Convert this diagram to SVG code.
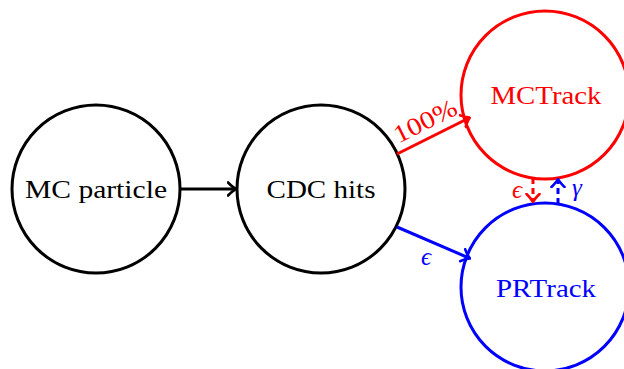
<svg xmlns="http://www.w3.org/2000/svg" width="624" height="369" viewBox="0 0 624 369">
<style>
text{font-family:"Liberation Serif","DejaVu Serif",serif;font-size:25px;text-anchor:middle;dominant-baseline:central}
.n{fill:none;stroke-width:3}
.e{fill:none;stroke-width:3}
</style>
<defs>
<marker id="ak" viewBox="-8 -8 10 16" markerWidth="10" markerHeight="16" refX="0" refY="0" orient="auto" markerUnits="userSpaceOnUse"><path d="M-7,-6.5 Q-2,-1.5 1,0 Q-2,1.5 -7,6.5" fill="none" stroke="#000" stroke-width="2.6" stroke-linecap="round"/></marker>
<marker id="ar" viewBox="-8 -8 10 16" markerWidth="10" markerHeight="16" refX="0" refY="0" orient="auto" markerUnits="userSpaceOnUse"><path d="M-7,-6.5 Q-2,-1.5 1,0 Q-2,1.5 -7,6.5" fill="none" stroke="#f00" stroke-width="2.6" stroke-linecap="round"/></marker>
<marker id="ab" viewBox="-8 -8 10 16" markerWidth="10" markerHeight="16" refX="0" refY="0" orient="auto" markerUnits="userSpaceOnUse"><path d="M-7,-6.5 Q-2,-1.5 1,0 Q-2,1.5 -7,6.5" fill="none" stroke="#00f" stroke-width="2.6" stroke-linecap="round"/></marker>
</defs>
<g id="mcparticle"><circle class="n" cx="96" cy="189" r="84" stroke="#000"/><text x="96" y="189" textLength="142" lengthAdjust="spacingAndGlyphs">MC particle</text></g>
<g id="cdchits"><circle class="n" cx="321" cy="189" r="84" stroke="#000"/><text x="321" y="189" textLength="109" lengthAdjust="spacingAndGlyphs">CDC hits</text></g>
<g id="mctrack"><circle class="n" cx="545" cy="95" r="84" stroke="#f00"/><text x="546" y="95" fill="#f00" textLength="111" lengthAdjust="spacingAndGlyphs">MCTrack</text></g>
<g id="prtrack"><circle class="n" cx="545" cy="287" r="84" stroke="#00f"/><text x="546" y="288" fill="#00f" textLength="100" lengthAdjust="spacingAndGlyphs">PRTrack</text></g>
<g id="connectors">
<line class="e" x1="180" y1="189" x2="235" y2="189" stroke="#000" marker-end="url(#ak)"/>
<line class="e" x1="397" y1="154" x2="469" y2="118" stroke="#f00" marker-end="url(#ar)"/>
<text x="425" y="121" fill="#f00" font-size="27" textLength="68" lengthAdjust="spacingAndGlyphs" transform="rotate(-26.6 425 121)">100%</text>
<line class="e" x1="397" y1="227" x2="469" y2="258" stroke="#00f" marker-end="url(#ab)"/>
<text x="426" y="256" fill="#00f" font-style="italic" font-size="22">ϵ</text>
<line class="e" x1="533" y1="178" x2="533" y2="201" stroke="#f00" stroke-dasharray="6,4" marker-end="url(#ar)"/>
<text x="517" y="189" fill="#f00" font-style="italic" font-size="22">ϵ</text>
<line class="e" x1="558" y1="204" x2="558" y2="180" stroke="#00f" stroke-dasharray="6,4" marker-end="url(#ab)"/>
<text x="577" y="187" fill="#00f" font-style="italic" font-size="22">γ</text>
</g>
</svg>
